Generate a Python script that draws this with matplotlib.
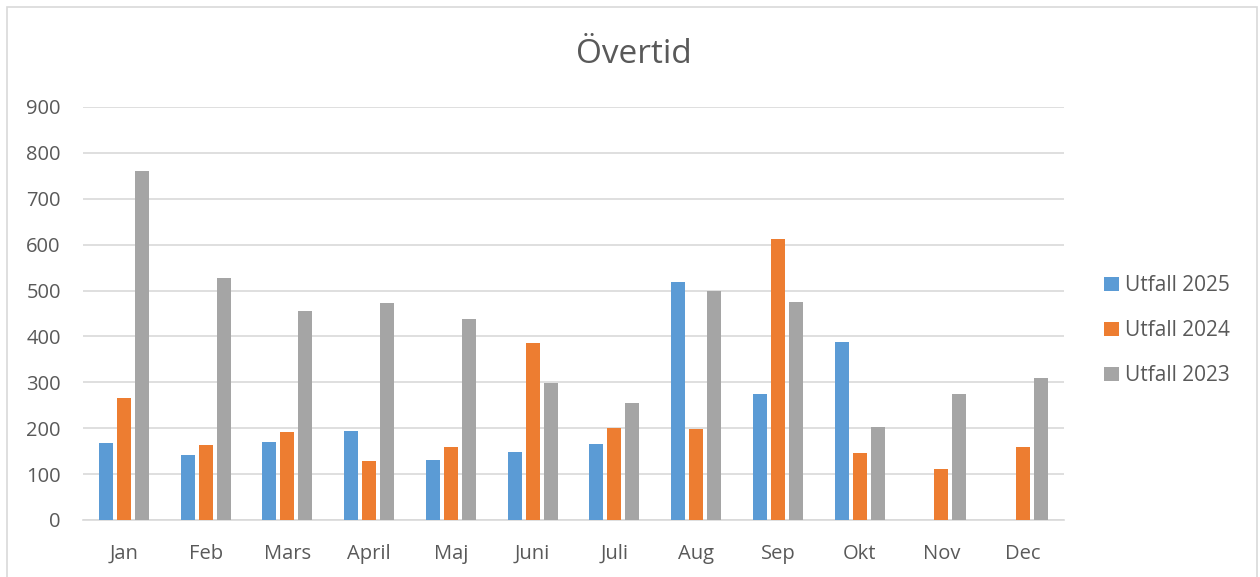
import numpy as np
import matplotlib
matplotlib.use('AGG')
import matplotlib.pyplot as plt
from matplotlib.patches import Rectangle

# Data
months = ['Jan', 'Feb', 'Mars', 'April', 'Maj', 'Juni', 'Juli', 'Aug', 'Sep', 'Okt', 'Nov', 'Dec']
utfall_2025 = [167, 142, 171, 195, 131, 148, 165, 519, 274, 387, np.nan, np.nan]
utfall_2024 = [266, 164, 192, 128, 158, 385, 200, 199, 613, 147, 112, 158]
utfall_2023 = [761, 528, 455, 472, 439, 299, 255, 498, 475, 202, 275, 309]
series_names = ['Utfall 2025', 'Utfall 2024', 'Utfall 2023']
colors = ['#5B9BD5', '#ED7D31', '#A5A5A5']

plt.rcParams['font.family'] = ['Open Sans', 'DejaVu Sans']
text_color = '#595959'
grid_color = '#D9D9D9'

fig = plt.figure(figsize=(12.6, 5.77), dpi=100)
ax = fig.add_axes([0.0659, 0.0988, 0.7786, 0.7158])

x = np.arange(len(months))
width = 0.17
step = 0.22
for i, (vals, name, col) in enumerate(zip([utfall_2025, utfall_2024, utfall_2023], series_names, colors)):
    ax.bar(x + (i - 1) * step, vals, width=width, color=col, label=name, zorder=3)

ax.set_xlim(-0.5, len(months) - 0.5)
ax.set_ylim(0, 900)
ax.set_yticks(range(0, 901, 100))
ax.set_xticks(x)
ax.set_xticklabels(months)
ax.grid(axis='y', color=grid_color, linewidth=1.2, zorder=0)
for side in ['top', 'right', 'left']:
    ax.spines[side].set_visible(False)
ax.spines['bottom'].set_color(grid_color)
ax.spines['bottom'].set_linewidth(1.2)
ax.tick_params(axis='both', length=0, labelsize=14.5, colors=text_color)
ax.tick_params(axis='y', pad=16)
ax.tick_params(axis='x', pad=17)

fig.text(0.503, 0.905, 'Övertid', ha='center', va='center', fontsize=24, color=text_color)

leg = ax.legend(loc='center left', bbox_to_anchor=(1.022, 0.458), frameon=False,
                fontsize=15, labelcolor=text_color, handlelength=0.7, handleheight=0.7,
                handletextpad=0.3, labelspacing=1.16)

# light chart-area border
fig.patches.append(Rectangle((7 / 1260, -0.01), 1250 / 1260, 1 - 7 / 577 + 0.01,
                             transform=fig.transFigure, fill=False,
                             edgecolor='#D9D9D9', linewidth=1.2))

fig.savefig('out.png', dpi=100, facecolor='white')
plt.close(fig)
